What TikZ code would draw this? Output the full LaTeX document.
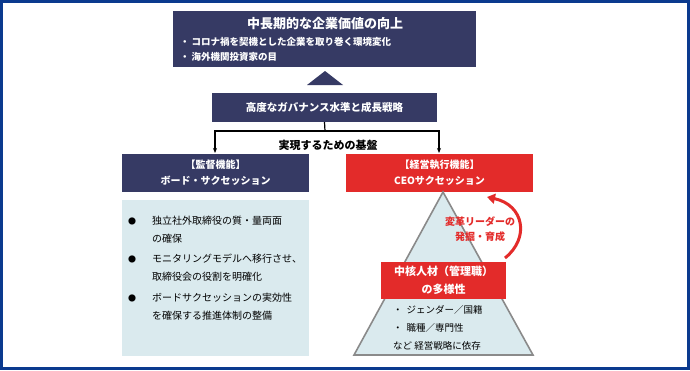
\documentclass[tikz,border=0pt]{standalone}
\usepackage{fontspec}
\setmainfont{Noto Sans CJK JP}
\usetikzlibrary{arrows.meta}
\definecolor{navy}{HTML}{363A64}
\definecolor{myred}{HTML}{E32B2A}
\definecolor{lightbl}{HTML}{DAEAEE}
\definecolor{frame}{HTML}{0B3A8E}
\definecolor{trigray}{HTML}{8A8A8A}
\tikzset{
  navybox/.style={fill=navy,draw=none,text=white},
  redbox/.style={fill=myred,draw=none,text=white},
  conn/.style={line width=1.2pt,black},
  arr/.style={conn,-{Stealth[length=5pt,width=4pt]}},
}
\begin{document}
\begin{tikzpicture}[x=1pt,y=-1pt]
\useasboundingbox (0,0) rectangle (690,370);
\draw[frame,line width=3pt] (1.5,1.5) rectangle (688.5,368.5);
% top box
\node[navybox,minimum width=303pt,minimum height=56pt,anchor=north west,inner sep=0pt] (top) at (173,11) {};
\node[text=white,font=\bfseries\fontsize{13}{15}\selectfont] (toptitle) at (325,24) {中長期的な企業価値の向上};
\node[text=white,anchor=west,font=\bfseries\fontsize{9.5}{11}\selectfont,inner sep=0pt] (tb1) at (180,42) {・\hspace{2pt}コロナ禍を契機とした企業を取り巻く環境変化};
\node[text=white,anchor=west,font=\bfseries\fontsize{9.5}{11}\selectfont,inner sep=0pt] (tb2) at (180,57) {・\hspace{2pt}海外機関投資家の目};
% triangle arrowhead
\fill[navy] (307,85) -- (325,71) -- (343,85) -- cycle;
% middle box
\node[navybox,minimum width=225pt,minimum height=29pt,inner sep=0pt,font=\bfseries\fontsize{10.5}{12}\selectfont] (mid) at (324.5,107.5) {高度なガバナンス水準と成長戦略};
% connectors
\coordinate (jn) at (325,131);
\coordinate (jl) at (215,131);
\coordinate (jr) at (439,131);
\draw[conn] (mid.south) -- (jn);
\draw[arr] (jn) -- (jl) -- (215,153);
\draw[arr] (jn) -- (jr) -- (439,153);
\node[font=\bfseries\fontsize{11}{13}\selectfont] (base) at (328,145) {実現するための基盤};
% left box
\node[navybox,minimum width=187pt,minimum height=38pt,inner sep=0pt,align=center,font=\bfseries\fontsize{10}{16}\selectfont] (sup) at (215.5,173) {【監督機能】\\ボード・サクセッション};
% right box
\node[redbox,minimum width=187pt,minimum height=38pt,inner sep=0pt,align=center,font=\bfseries\fontsize{10}{16}\selectfont] (exe) at (439.5,173) {【経営執行機能】\\CEOサクセッション};
% light box
\node[fill=lightbl,minimum width=187pt,minimum height=156pt,inner sep=0pt] (lb) at (215.5,278) {};
\begin{scope}[every node/.style={anchor=west,inner sep=0pt,font=\fontsize{10}{12}\selectfont}]
\node (d1) at (128,221) {\fontsize{8}{10}\selectfont●};
\node (l1a) at (152,221) {独立社外取締役の質・量両面};
\node (l1b) at (152,239) {の確保};
\node (d2) at (128,259) {\fontsize{8}{10}\selectfont●};
\node (l2a) at (152,259) {モニタリングモデルへ移行させ、};
\node (l2b) at (152,277) {取締役会の役割を明確化};
\node (d3) at (128,298) {\fontsize{8}{10}\selectfont●};
\node (l3a) at (152,298) {ボードサクセッションの実効性};
\node (l3b) at (152,316) {を確保する推進体制の整備};
\end{scope}
% pyramid
\draw[trigray,fill=lightbl,line width=1.6pt] (354,355) -- (443,192) -- (533,355) -- cycle;
\node[redbox,minimum width=125pt,minimum height=37pt,inner sep=0pt,align=center,font=\bfseries\fontsize{11}{18}\selectfont] (core) at (443.5,280.5) {中核人材（管理職）\\の多様性};
\begin{scope}[every node/.style={anchor=west,inner sep=0pt,font=\fontsize{9.5}{11}\selectfont}]
\node (p1) at (393,310) {・\hspace{4pt}ジェンダー／国籍};
\node (p2) at (393,328) {・\hspace{4pt}職種／専門性};
\node (p3) at (393,346) {など 経営戦略に依存};
\end{scope}
\node[text=myred,align=center,font=\bfseries\fontsize{10}{15}\selectfont] (lead) at (480,229) {変革リーダーの\\発掘・育成};
\coordinate (cs) at (505,258);
\coordinate (ce) at (487,197);
\draw[myred,line width=3pt,-{Triangle[length=8pt,width=10pt]}] (cs) .. controls (530,238) and (524,205) .. (ce);
\end{tikzpicture}
\end{document}
